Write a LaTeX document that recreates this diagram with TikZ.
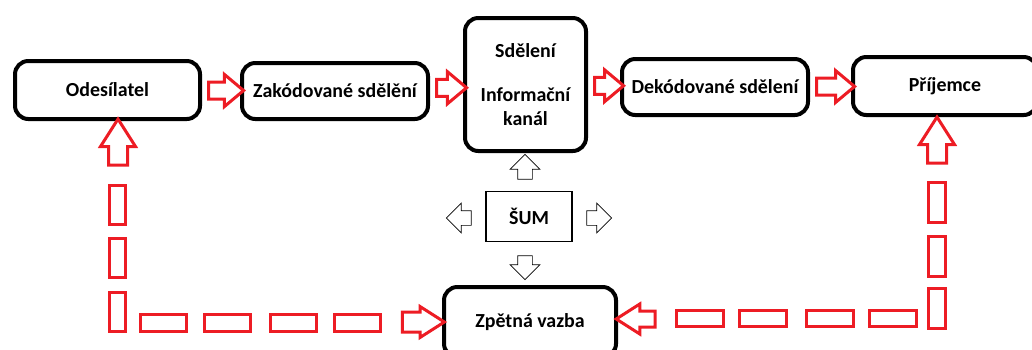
\documentclass[tikz,border=0pt]{standalone}
\usepackage{fontspec}
\setmainfont{Carlito}
\usetikzlibrary{shapes.arrows,calc}
\definecolor{paintred}{RGB}{237,28,36}

\begin{document}
\begin{tikzpicture}[
  font=\bfseries\fontsize{17}{20.8}\selectfont,
  block/.style={rectangle, draw, line width=0.12cm, rounded corners=0.4cm, fill=white, align=center},
  noisebox/.style={rectangle, draw, line width=1.2pt, fill=white},
  fat/.style={single arrow, draw=paintred, line width=0.09cm, fill=white, inner xsep=0pt, inner ysep=0.21cm,
    minimum width=0.87cm, single arrow head extend=0.225cm, single arrow tip angle=80},
  piece/.style={rectangle, draw=paintred, line width=0.09cm, inner sep=0pt},
  noise/.style={single arrow, draw, line width=0.6pt, fill=white, inner xsep=0pt, inner ysep=0.21cm,
    minimum width=0.87cm, single arrow head extend=0.225cm, single arrow tip angle=90}
]
  \path[use as bounding box, clip] (0,0) rectangle (30.96,-10.47);
  % Nodes
  \node (ode) [block, minimum width=5.55cm, minimum height=1.74cm] at (3.225,-2.7) {Odesílatel};
  \node (zak) [block, minimum width=5.58cm, minimum height=1.68cm] at (10.05,-2.73) {Zakódované sdělění};
  \node (chan) [block, minimum width=3.63cm, minimum height=3.99cm] at (15.765,-2.535) {Sdělení\\[0.6cm]Informační\\kanál};
  \node (dek) [block, minimum width=5.58cm, minimum height=1.68cm] at (21.45,-2.61) {Dekódované sdělení};
  \node (pri) [block, minimum width=5.52cm, minimum height=1.74cm] at (28.35,-2.58) {Příjemce};
  \node (sum) [noisebox, minimum width=2.58cm, minimum height=1.5cm] at (15.87,-6.495) {ŠUM};
  \node (fb) [block, minimum width=5.16cm, minimum height=2.1cm] at (15.9,-9.66) {Zpětná vazba};
  % Arrow
  \node (a-1) [fat, minimum height=1.05cm] at ($(ode.east)!0.5!(zak.west)$) {};
  \node (a-2) [fat, minimum height=0.9cm] at ($(zak.east)!0.5!(chan.west)$) {};
  \node (a-3) [fat, minimum height=0.87cm] at ($(chan.east)!0.5!(dek.west)$) {};
  \node (a-4) [fat, minimum height=1.14cm] at ($(dek.east)!0.5!(pri.west)$) {};
  % Noise
  \node (n-up) [noise, rotate=90, minimum height=0.75cm] at (15.75,-5.115) {};
  \node (n-left) [noise, rotate=180, minimum height=0.75cm] at (13.875,-6.54) {};
  \node (n-right) [noise, minimum height=0.75cm] at (17.865,-6.54) {};
  \node (n-down) [noise, rotate=-90, minimum height=0.72cm] at (15.75,-7.92) {};
  % Feedback
  \node (up-l) [fat, rotate=90, minimum height=1.38cm, minimum width=0.96cm, inner ysep=0.24cm, single arrow head extend=0.24cm, single arrow tip angle=65] at (3.54,-4.485) {};
  \foreach \y in {-6.15,-7.74,-9.345}
    \node [piece, minimum width=0.48cm, minimum height=1.17cm] at (3.525,\y) {};
  \foreach \x in {4.905,6.81,8.79,10.725}
    \node [piece, minimum width=1.38cm, minimum height=0.51cm] at (\x,-9.69) {};
  \node (in-l) [fat, minimum height=1.26cm, minimum width=0.84cm, inner ysep=0.255cm, single arrow head extend=0.165cm, single arrow tip angle=65] at (12.465,-9.66) {};
  \node (in-r) [fat, rotate=180, minimum height=1.17cm, minimum width=0.81cm, inner ysep=0.195cm, single arrow head extend=0.21cm, single arrow tip angle=65] at (19.26,-9.57) {};
  \foreach \x in {21.0,22.89,24.9,26.775}
    \node [piece, minimum width=1.41cm, minimum height=0.48cm] at (\x,-9.555) {};
  \foreach \y in {-6.06,-7.68,-9.255}
    \node [piece, minimum width=0.51cm, minimum height=1.2cm] at (28.11,\y) {};
  \node (up-r) [fat, rotate=90, minimum height=1.38cm, minimum width=0.96cm, inner ysep=0.24cm, single arrow head extend=0.24cm, single arrow tip angle=65] at (28.11,-4.425) {};
\end{tikzpicture}
\end{document}
